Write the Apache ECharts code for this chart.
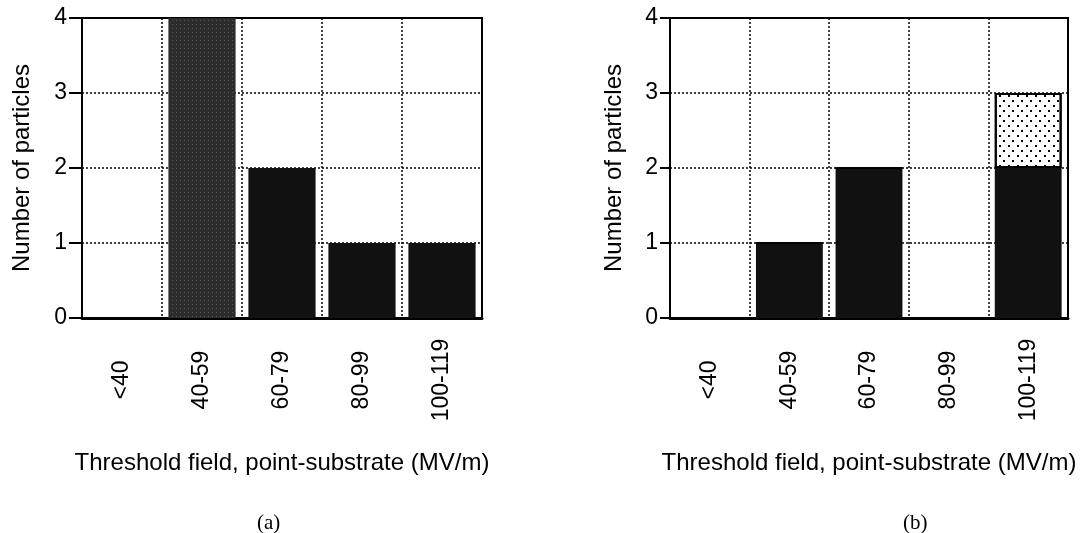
<!DOCTYPE html>
<html>
<head>
<meta charset="utf-8">
<title>Threshold field histograms</title>
<script src="https://cdn.jsdelivr.net/npm/echarts@6/dist/echarts.min.js"></script>
<style>
  html, body { margin: 0; padding: 0; background: #fff; }
  #chart { width: 1088px; height: 533px; }
</style>
</head>
<body>
<div id="chart"></div>
<script>
// threshold field bins (MV/m)
var categories = ['<40', '40-59', '60-79', '80-99', '100-119']
var yTicks = [0, 1, 2, 3, 4]

// panel (a)
var countsA = [0, 4, 2, 1, 1]
// panel (b): solid part and dotted part stacked on top
var countsB = [0, 1, 2, 0, 2]
var countsBDotted = [0, 0, 0, 0, 1]

var FONT = '"Liberation Sans", Arial, Helvetica, sans-serif'
var dotted = [2, 2]

var chart = echarts.init(document.getElementById('chart'))

function xAxisFor(gridIndex) {
  return {
    type: 'category',
    gridIndex: gridIndex,
    data: categories,
    name: 'Threshold field, point-substrate (MV/m)',
    nameLocation: 'middle',
    nameGap: 133,
    nameTextStyle: { fontFamily: FONT, fontSize: 24, color: '#000' },
    axisLine: { lineStyle: { color: '#000', width: 3 } },
    axisTick: { show: false },
    axisLabel: {
      rotate: 90,
      align: 'center',
      margin: 62,
      interval: 0,
      fontFamily: FONT,
      fontSize: 23,
      color: '#000'
    },
    splitLine: { show: true, interval: 0, lineStyle: { color: '#000', width: 1.5, type: dotted } }
  }
}

function yAxisFor(gridIndex, tickLen, nameGap) {
  return {
    type: 'value',
    gridIndex: gridIndex,
    min: yTicks[0],
    max: yTicks[yTicks.length - 1],
    interval: 1,
    name: 'Number of particles',
    nameLocation: 'middle',
    nameGap: nameGap,
    nameTextStyle: { fontFamily: FONT, fontSize: 24, color: '#000' },
    axisLine: { show: true, lineStyle: { color: '#000', width: 2 } },
    axisTick: { show: true, length: tickLen, lineStyle: { color: '#000', width: 2 } },
    axisLabel: { margin: tickLen + 2, fontFamily: FONT, fontSize: 23, color: '#000' },
    splitLine: { show: true, lineStyle: { color: '#000', width: 1.5, type: dotted } }
  }
}

var stipple = {
  symbol: 'rect',
  symbolSize: 1,
  color: 'rgba(140,140,140,0.45)',
  dashArrayX: [1, 3],
  dashArrayY: [1, 3],
  rotation: 0
}

var dots = {
  symbol: 'rect',
  symbolSize: 1,
  color: '#000',
  dashArrayX: [[1.5, 6.5], [0, 4, 1.5, 2.5]],
  dashArrayY: [1.5, 2.5],
  rotation: 0
}

var option = {
  backgroundColor: '#fff',
  animation: false,
  title: [
    { text: '(a)', left: 252, top: 508, textStyle: { fontFamily: '"Liberation Serif", "Times New Roman", serif', fontSize: 21, fontWeight: 'normal', color: '#000' } },
    { text: '(b)', left: 898, top: 508, textStyle: { fontFamily: '"Liberation Serif", "Times New Roman", serif', fontSize: 21, fontWeight: 'normal', color: '#000' } }
  ],
  grid: [
    { left: 82, top: 18, width: 400, height: 300, show: true, borderColor: '#000', borderWidth: 2, backgroundColor: '#fff' },
    { left: 670, top: 18, width: 398, height: 300, show: true, borderColor: '#000', borderWidth: 2, backgroundColor: '#fff' }
  ],
  xAxis: [xAxisFor(0), xAxisFor(1)],
  yAxis: [yAxisFor(0, 13, 48), yAxisFor(1, 10, 44)],
  series: [
    {
      type: 'bar',
      xAxisIndex: 0,
      yAxisIndex: 0,
      barCategoryGap: '16%',
      data: countsA.map(function (v, i) {
        if (i === 1) {
          return { value: v, itemStyle: { color: '#2c2c2c', decal: stipple } }
        }
        return v
      }),
      itemStyle: { color: '#111' }
    },
    {
      type: 'bar',
      xAxisIndex: 1,
      yAxisIndex: 1,
      stack: 'b',
      barCategoryGap: '16%',
      data: countsB,
      itemStyle: { color: '#111' }
    },
    {
      type: 'bar',
      xAxisIndex: 1,
      yAxisIndex: 1,
      stack: 'b',
      barCategoryGap: '16%',
      data: countsBDotted,
      itemStyle: { color: '#fff', borderColor: '#000', borderWidth: 2, decal: dots }
    }
  ]
}

chart.setOption(option)
</script>
</body>
</html>
